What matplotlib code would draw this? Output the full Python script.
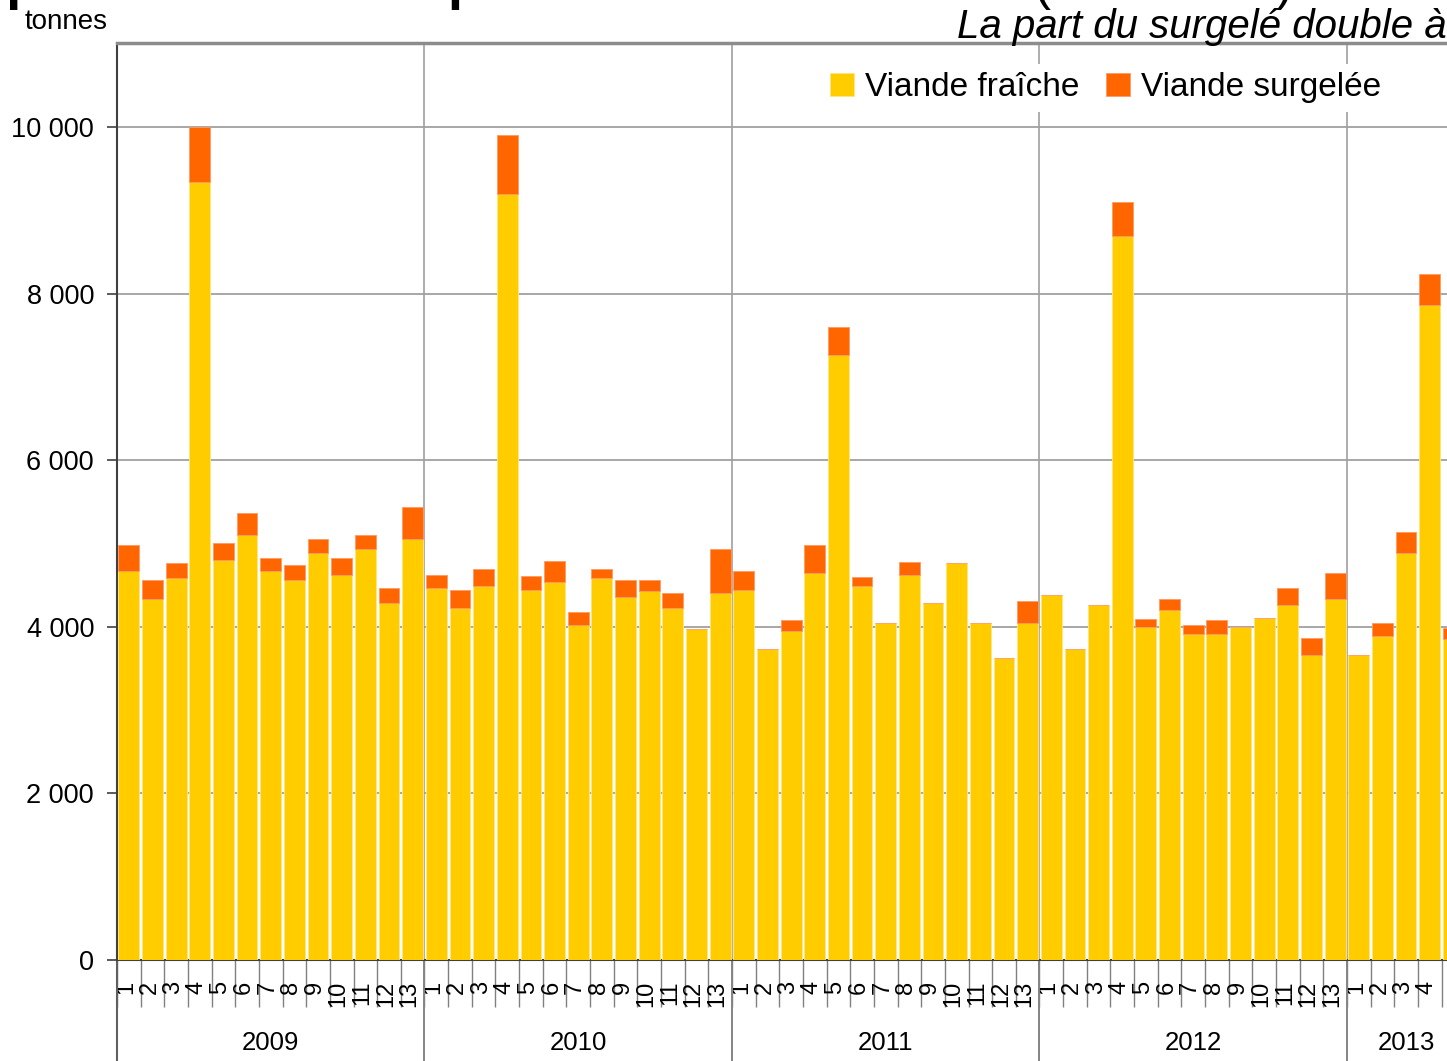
import matplotlib
matplotlib.use('Agg')
import matplotlib.pyplot as plt
import matplotlib.transforms as mtransforms
import numpy as np

plt.rcParams['font.family'] = ['Liberation Sans', 'DejaVu Sans']

# ---------------- data ----------------
years = ['2009', '2010', '2011', '2012', '2013']
periods_per_year = [13, 13, 13, 13, 5]

frais_2009 = [4670, 4330, 4580, 9340, 4800, 5100, 4670, 4560, 4880, 4620, 4930, 4280, 5050]
surg_2009 = [310, 230, 180, 660, 200, 260, 150, 180, 170, 200, 170, 180, 390]
frais_2010 = [4460, 4220, 4490, 9200, 4440, 4540, 4020, 4580, 4360, 4430, 4220, 3970, 4410]
surg_2010 = [160, 220, 200, 700, 170, 250, 160, 110, 200, 130, 180, 0, 520]
frais_2011 = [4440, 3730, 3950, 4640, 7260, 4490, 4040, 4620, 4280, 4770, 4040, 3630, 4040]
surg_2011 = [230, 0, 130, 340, 340, 110, 0, 160, 0, 0, 0, 0, 270]
frais_2012 = [4380, 3730, 4260, 8690, 4000, 4200, 3910, 3910, 4000, 4100, 4260, 3660, 4330]
surg_2012 = [0, 0, 0, 410, 90, 130, 110, 170, 0, 0, 200, 200, 310]
frais_2013 = [3660, 3890, 4880, 7860, 3850]
surg_2013 = [0, 150, 260, 380, 130]

yticks = [0, 2000, 4000, 6000, 8000, 10000]
ytick_labels = ['0', '2 000', '4 000', '6 000', '8 000', '10 000']

frais = frais_2009 + frais_2010 + frais_2011 + frais_2012 + frais_2013
surg = surg_2009 + surg_2010 + surg_2011 + surg_2012 + surg_2013
period_labels = [str(p) for n in periods_per_year for p in range(1, n + 1)]

# ---------------- figure ----------------
W, H = 1447, 1061
fig = plt.figure(figsize=(W / 100, H / 100), dpi=100)
ax_left, ax_right, ax_top, ax_bottom = 117, 1447, 43, 960
ax = fig.add_axes([ax_left / W, (H - ax_bottom) / H,
                   (ax_right - ax_left) / W, (ax_bottom - ax_top) / H])

x = np.arange(len(frais))
yellow = '#FFCC00'
orange = '#FF6600'
ax.bar(x, frais, width=0.88, color=yellow, edgecolor='#FFE680', linewidth=0.6,
       label='Viande fraîche', zorder=3)
ax.bar(x, surg, bottom=frais, width=0.88, color=orange, edgecolor='#FF9966',
       linewidth=0.6, label='Viande surgelée', zorder=3)

# y axis
ax.set_yticks(yticks)
ax.set_yticklabels(ytick_labels, fontsize=19.5)
ax.tick_params(axis='y', direction='out', length=7.5, width=1.2, color='#404040', pad=9)
ax.yaxis.grid(True, color='#a0a0a0', linewidth=1.3, zorder=0)
ax.set_axisbelow(True)

# x axis: separators as major ticks, labels as minor ticks
bounds = np.arange(-0.5, len(frais) + 0.5, 1.0)
ax.set_xticks(bounds)
ax.set_xticklabels([])
ax.tick_params(axis='x', which='major', direction='out', length=34, width=1.0, color='#808080')
ax.set_xticks(x, minor=True)
ax.set_xticklabels(period_labels, minor=True, rotation=90, fontsize=17, va='top', ha='center')
ax.tick_params(axis='x', which='minor', length=0, pad=15)
offset = mtransforms.ScaledTranslation(-3 / 100, 0, fig.dpi_scale_trans)
for lab in ax.get_xticklabels(minor=True):
    lab.set_transform(lab.get_transform() + offset)

ax.set_xlim(-0.5, 55.73)
ax.set_ylim(0, 11008)

# spines
ax.spines['right'].set_visible(False)
ax.spines['top'].set_color('#8c8c8c')
ax.spines['top'].set_linewidth(2.5)
ax.spines['left'].set_color('#404040')
ax.spines['left'].set_linewidth(1.5)
ax.spines['bottom'].set_color('#404040')
ax.spines['bottom'].set_linewidth(1.5)

# year separators and labels
trans = mtransforms.blended_transform_factory(ax.transData, ax.transAxes)
below = -(H - ax_bottom) / (ax_bottom - ax_top)
starts = np.cumsum([0] + periods_per_year[:-1])
for i, (yr, n) in enumerate(zip(years, periods_per_year)):
    b = starts[i] - 0.5
    ax.plot([b, b], [below, 1], transform=trans, color='#a0a0a0', lw=1.2,
            clip_on=False, zorder=1)
    ax.plot([b, b], [below, 0], transform=trans, color='#808080', lw=1.2,
            clip_on=False, zorder=1)
    ax.text(starts[i] + (n - 1) / 2, -(1043 - ax_bottom) / (ax_bottom - ax_top), yr,
            transform=trans, ha='center', va='center', fontsize=18.5)
ax.plot([-0.5, -0.5], [below, 0], transform=trans, color='#606060', lw=1.5,
        clip_on=False, zorder=1)
ax.set_xlim(-0.5, 55.73)

# legend
leg = ax.legend(loc='upper left', bbox_to_anchor=((822 - ax_left) / (ax_right - ax_left),
                                                  1 - (64 - ax_top) / (ax_bottom - ax_top)),
                ncol=2, frameon=True, fancybox=False, edgecolor='none', facecolor='white',
                framealpha=1, fontsize=24, handlelength=0.7, handleheight=0.7,
                handletextpad=0.35, columnspacing=0.8, borderpad=0.25, borderaxespad=0)
leg.set_zorder(5)

# texts
fig.text(25 / W, 1 - 22 / H, 'tonnes', fontsize=20, ha='left', va='center')
fig.text(1447 / W, 1 - 38 / H, 'La part du surgelé double à', fontsize=29,
         style='italic', ha='right', va='baseline')
fig.text(-12 / W, 1 + 1 / H, 'ques demeure au pic de consommation', fontsize=39,
         fontweight='bold', ha='left', va='baseline')
fig.text(1034 / W, 1 + 1 / H, '(en tonnes)', fontsize=37, ha='left', va='baseline')

fig.savefig('out.png', dpi=100)
